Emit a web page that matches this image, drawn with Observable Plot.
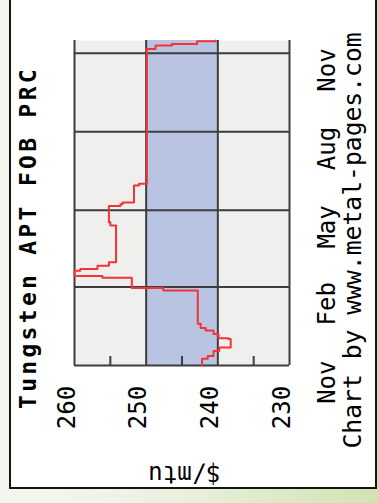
<!DOCTYPE html>
<html>
<head>
<meta charset="utf-8">
<script src="https://cdn.jsdelivr.net/npm/d3@7"></script>
<script src="https://cdn.jsdelivr.net/npm/@observablehq/plot@0.6"></script>
<style>
  html, body { margin: 0; padding: 0; }
  body {
    width: 378px; height: 503px; position: relative; overflow: hidden;
    background: linear-gradient(90deg, #f3f6f0 0%, #eef3e6 35%, #d2e3b2 100%);
  }
  #panel {
    position: absolute; left: 9px; top: -5px; width: 368px; height: 494px;
    box-sizing: border-box; border: 2px solid #151515; background: #ffffff;
  }
  #chart { position: absolute; left: 0; top: 0; }
</style>
</head>
<body>
<div id="panel"></div>
<div id="chart"></div>
<script>
// ---- data ----
const titleText = "Tungsten APT FOB PRC";
const captionText = "Chart by www.metal-pages.com";
const unitLabel = "$/mtu";

const domainStart = "2007-11-01";
const domainEnd = "2008-11-16";

const priceDates = [
  "2007-11-01", "2007-11-09", "2007-11-12", "2007-11-18", "2007-11-22",
  "2007-12-02", "2007-12-03", "2007-12-08", "2007-12-12", "2007-12-15",
  "2007-12-20", "2008-01-28", "2008-01-31", "2008-02-12", "2008-02-14",
  "2008-02-20", "2008-02-22", "2008-02-26", "2008-03-01", "2008-04-13",
  "2008-04-17", "2008-05-06", "2008-05-08", "2008-05-10", "2008-05-30",
  "2008-06-01", "2008-11-06", "2008-11-10", "2008-11-12", "2008-11-15",
  "2008-11-16"
];
const priceValues = [
  242.2, 241.4, 240.6, 239.8, 238.2,
  238.5, 239.9, 240.6, 241.7, 242.4,
  242.8, 247.6, 252.0, 256.1, 260.0,
  259.2, 256.8, 255.2, 254.2, 255.0,
  255.2, 253.6, 253.3, 251.7, 251.0,
  249.9, 248.7, 246.4, 242.9, 240.3,
  240.3
];

const monthTickDates = ["2007-11-01", "2008-02-01", "2008-05-01", "2008-08-01", "2008-11-01"];
const monthTickLabels = ["Nov", "Feb", "May", "Aug", "Nov"];
const valueTicks = [260, 250, 240, 230];
const minorValueTicks = [255, 245, 235];
const bandRange = [240, 250];

// ---- build ----
const prices = priceDates.map((d, i) => ({date: new Date(d), value: priceValues[i]}));
const months = monthTickDates.map((d, i) => ({date: new Date(d), label: monthTickLabels[i]}));
const band = [{lo: bandRange[0], hi: bandRange[1]}];

const gridColor = "#3d3d3d";
const font = "'DejaVu Sans Mono', monospace";

const chart = Plot.plot({
  width: 378,
  height: 503,
  marginLeft: 74,
  marginRight: 89,
  marginTop: 40,
  marginBottom: 138,
  style: {background: "transparent", fontFamily: font, color: "#000", overflow: "visible"},
  x: {domain: [valueTicks[0], valueTicks[valueTicks.length - 1]], axis: null},
  y: {type: "utc", domain: [new Date(domainStart), new Date(domainEnd)], axis: null},
  marks: [
    Plot.frame({fill: "#eff0ee"}),
    Plot.rect(band, {x1: "lo", x2: "hi", fill: "#b9c4e3"}),
    Plot.ruleX(minorValueTicks, {stroke: gridColor, strokeWidth: 2, insetTop: 316}),
    Plot.ruleY(months, {y: "date", stroke: gridColor, strokeWidth: 2}),
    Plot.ruleX(valueTicks, {stroke: gridColor, strokeWidth: 2}),
    Plot.line(prices, {x: "value", y: "date", curve: "step-before", stroke: "#f23434", strokeWidth: 2}),
    Plot.text(valueTicks, {x: d => d, text: d => String(d), frameAnchor: "bottom", dy: 42, rotate: -90, fontSize: 24, fill: "#000"}),
    Plot.text(months, {y: "date", text: "label", frameAnchor: "right", dx: 38, dy: -5, rotate: -90, fontSize: 24, fill: "#000"}),
    Plot.text([titleText], {text: d => d, frameAnchor: "bottom-left", textAnchor: "start", dx: -38.5, dy: 43.5, rotate: -90, fontSize: 23, fontWeight: "bold", fill: "#000"}),
    Plot.text([captionText], {text: d => d, frameAnchor: "bottom-right", textAnchor: "start", dx: 71, dy: 83, rotate: -90, fontSize: 24.7, fill: "#000"}),
    Plot.text([unitLabel], {text: d => d, frameAnchor: "bottom", dx: 2.5, dy: 100, rotate: 180, fontSize: 24, fill: "#000"})
  ]
});

d3.select(chart).selectAll("text")
  .filter(function () { return this.textContent === titleText; })
  .attr("letter-spacing", "3.3px");

document.getElementById("chart").appendChild(chart);
</script>
</body>
</html>
